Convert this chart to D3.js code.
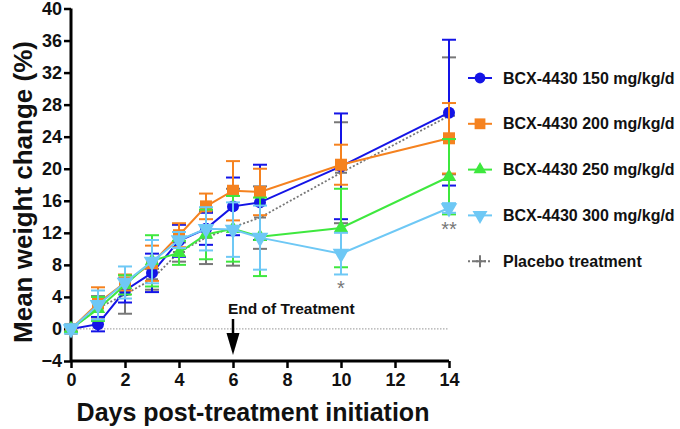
<!DOCTYPE html>
<html>
<head>
<meta charset="utf-8">
<script src="https://cdn.jsdelivr.net/npm/d3@7"></script>
<style>
  body { margin: 0; background: #fff; }
  text { font-family: "Liberation Sans", Arial, Helvetica, sans-serif; font-weight: bold; }
</style>
</head>
<body>
<div id="chart"></div>
<script>
// days after treatment start
var days = [0, 1, 2, 3, 4, 5, 6, 7, 10, 14];

// mean weight change (%) and error (SD) per group
var mean150 = [0, 0.6, 4.8, 7.0, 11.0, 12.5, 15.3, 15.8, 20.3, 27.0];
var err150  = [0.4, 0.9, 1.5, 2.4, 2.0, 2.0, 3.6, 4.7, 6.6, 9.1];
var mean200 = [0, 3.2, 5.8, 8.2, 11.7, 15.3, 17.25, 17.1, 20.5, 23.8];
var err200  = [0.4, 2.0, 1.0, 2.2, 1.5, 1.6, 3.7, 2.9, 2.5, 4.4];
var mean250 = [0, 2.5, 5.5, 8.5, 9.5, 11.8, 12.5, 11.5, 12.6, 19.0];
var err250  = [0.4, 1.5, 1.2, 3.2, 1.5, 3.1, 4.1, 4.9, 4.9, 4.7];
var mean300 = [0, 3.0, 5.8, 8.4, 11.1, 12.5, 12.4, 11.4, 9.4, 15.1];
var err300  = [0.6, 1.8, 2.0, 2.7, 1.0, 2.7, 3.4, 4.0, 2.6, 0.6];
var meanPlacebo = [0, 2.6, 4.3, 6.2, 9.6, 11.4, 12.7, 13.9, 19.5, 26.6];
var errPlacebo  = [0.3, 1.5, 2.4, 1.3, 1.2, 3.3, 4.8, 3.9, 6.3, 7.3];

var xTicks = [0, 2, 4, 6, 8, 10, 12, 14];
var yTicks = [-4, 0, 4, 8, 12, 16, 20, 24, 28, 32, 36, 40];

var groups = [
  { name: "Placebo treatment", mean: meanPlacebo, err: errPlacebo, color: "#777777", shape: "plus", dash: "2,2" },
  { name: "BCX-4430 150 mg/kg/d", mean: mean150, err: err150, color: "#1414e6", shape: "circle" },
  { name: "BCX-4430 200 mg/kg/d", mean: mean200, err: err200, color: "#f5821f", shape: "square" },
  { name: "BCX-4430 250 mg/kg/d", mean: mean250, err: err250, color: "#3ee83e", shape: "up" },
  { name: "BCX-4430 300 mg/kg/d", mean: mean300, err: err300, color: "#6ec8f5", shape: "down" }
];
var legendOrder = [1, 2, 3, 4, 0];

var width = 680, height = 429;

var svg = d3.select("#chart").append("svg")
  .attr("width", width)
  .attr("height", height);

var x = d3.scaleLinear().domain([0, 14]).range([71, 449]);
var y = d3.scaleLinear().domain([-4, 40]).range([361, 8.5]);

// zero reference line
svg.append("line")
  .attr("x1", x(0)).attr("x2", x(14))
  .attr("y1", y(0)).attr("y2", y(0))
  .attr("stroke", "#aaaaaa")
  .attr("stroke-width", 1.2)
  .attr("stroke-dasharray", "1.5,1.5");

// axes
var xAxis = svg.append("g")
  .attr("transform", "translate(0," + y(-4) + ")")
  .call(d3.axisBottom(x).tickValues(xTicks).tickSize(7).tickPadding(5));
var yAxis = svg.append("g")
  .attr("transform", "translate(" + x(0) + ",0)")
  .call(d3.axisLeft(y).tickValues(yTicks).tickSize(7).tickPadding(2));

[xAxis, yAxis].forEach(function (ax) {
  ax.select(".domain").attr("stroke", "#000").attr("stroke-width", 3);
  ax.selectAll(".tick line").attr("stroke", "#000").attr("stroke-width", 2.5);
  ax.selectAll(".tick text")
    .attr("fill", "#111")
    .style("font-size", "18px")
    .style("font-family", "'Liberation Sans', Arial, sans-serif")
    .style("font-weight", "bold");
});
yAxis.select(".domain").attr("d", "M0," + y(-4) + "V" + y(40));
xAxis.select(".domain").attr("d", "M" + x(0) + ",0H" + x(14));

// axis titles
svg.append("text")
  .attr("x", 253).attr("y", 421)
  .attr("text-anchor", "middle")
  .style("font-size", "25px")
  .attr("fill", "#111")
  .text("Days post-treatment initiation");

svg.append("text")
  .attr("transform", "translate(32," + 192 + ") rotate(-90)")
  .attr("text-anchor", "middle")
  .style("font-size", "26px")
  .attr("fill", "#111")
  .text("Mean weight change (%)");

// symbol drawing helper
function drawMarker(g, shape, color, size) {
  var s = size || 1;
  if (shape === "circle") {
    g.append("circle").attr("r", 6 * s).attr("fill", color);
  } else if (shape === "square") {
    g.append("rect").attr("x", -6 * s).attr("y", -6 * s)
      .attr("width", 12 * s).attr("height", 12 * s).attr("fill", color);
  } else if (shape === "up") {
    g.append("path").attr("d", d3.symbol().type(d3.symbolTriangle).size(90 * s * s)).attr("fill", color);
  } else if (shape === "down") {
    g.append("path").attr("d", d3.symbol().type(d3.symbolTriangle).size(120 * s * s))
      .attr("transform", "rotate(180)").attr("fill", color);
  } else if (shape === "plus") {
    g.append("path").attr("d", "M-6,0H6M0,-6V6")
      .attr("stroke", color).attr("stroke-width", 2).attr("fill", "none");
  }
}

var line = d3.line()
  .x(function (d) { return x(d.day); })
  .y(function (d) { return y(d.mean); });

groups.forEach(function (grp) {
  var pts = days.map(function (d, i) { return { day: d, mean: grp.mean[i], err: grp.err[i] }; });
  var g = svg.append("g");

  // error bars
  var eb = g.selectAll(".eb").data(pts).enter().append("g")
    .attr("stroke", grp.color).attr("stroke-width", 2).attr("fill", "none");
  eb.append("line")
    .attr("x1", function (d) { return x(d.day); })
    .attr("x2", function (d) { return x(d.day); })
    .attr("y1", function (d) { return y(d.mean + d.err); })
    .attr("y2", function (d) { return y(d.mean - d.err); });
  eb.append("line")
    .attr("x1", function (d) { return x(d.day) - 7; })
    .attr("x2", function (d) { return x(d.day) + 7; })
    .attr("y1", function (d) { return y(d.mean + d.err); })
    .attr("y2", function (d) { return y(d.mean + d.err); });
  eb.append("line")
    .attr("x1", function (d) { return x(d.day) - 7; })
    .attr("x2", function (d) { return x(d.day) + 7; })
    .attr("y1", function (d) { return y(d.mean - d.err); })
    .attr("y2", function (d) { return y(d.mean - d.err); });

  // connecting line
  g.append("path")
    .datum(pts)
    .attr("d", line)
    .attr("fill", "none")
    .attr("stroke", grp.color)
    .attr("stroke-width", grp.dash ? 1.8 : 2)
    .attr("stroke-dasharray", grp.dash || null);

  // symbols
  g.selectAll(".mk").data(pts).enter().append("g")
    .attr("transform", function (d) { return "translate(" + x(d.day) + "," + y(d.mean) + ")"; })
    .each(function () { drawMarker(d3.select(this), grp.shape, grp.color); });
});

// significance marks
svg.append("text")
  .attr("x", x(10)).attr("y", 295)
  .attr("text-anchor", "middle")
  .attr("fill", "#777")
  .style("font-size", "20px").style("font-weight", "normal")
  .text("*");
svg.append("text")
  .attr("x", x(14)).attr("y", 236)
  .attr("text-anchor", "middle")
  .attr("fill", "#777")
  .style("font-size", "20px").style("font-weight", "normal")
  .text("**");

// end of treatment annotation
svg.append("text")
  .attr("x", 228).attr("y", 314)
  .style("font-size", "15.5px")
  .attr("fill", "#111")
  .text("End of Treatment");
svg.append("line")
  .attr("x1", x(6)).attr("x2", x(6))
  .attr("y1", 319).attr("y2", 336)
  .attr("stroke", "#000").attr("stroke-width", 2.5);
svg.append("path")
  .attr("d", "M" + (x(6) - 6.5) + ",333L" + (x(6) + 6.5) + ",333L" + x(6) + ",355Z")
  .attr("fill", "#000");

// legend
var legend = svg.selectAll(".legend")
  .data(legendOrder.map(function (i) { return groups[i]; }))
  .enter().append("g")
  .attr("transform", function (d, i) { return "translate(480," + (78 + i * 45.8) + ")"; });

legend.append("line")
  .attr("x1", -12).attr("x2", 12)
  .attr("stroke", function (d) { return d.color; })
  .attr("stroke-width", 2)
  .attr("stroke-dasharray", function (d) { return d.dash || null; });
legend.each(function (d) { drawMarker(d3.select(this), d.shape, d.color, 0.9); });
legend.append("text")
  .attr("x", 23).attr("y", 5.5)
  .style("font-size", "16px")
  .attr("fill", "#111")
  .text(function (d) { return d.name; });
</script>
</body>
</html>
